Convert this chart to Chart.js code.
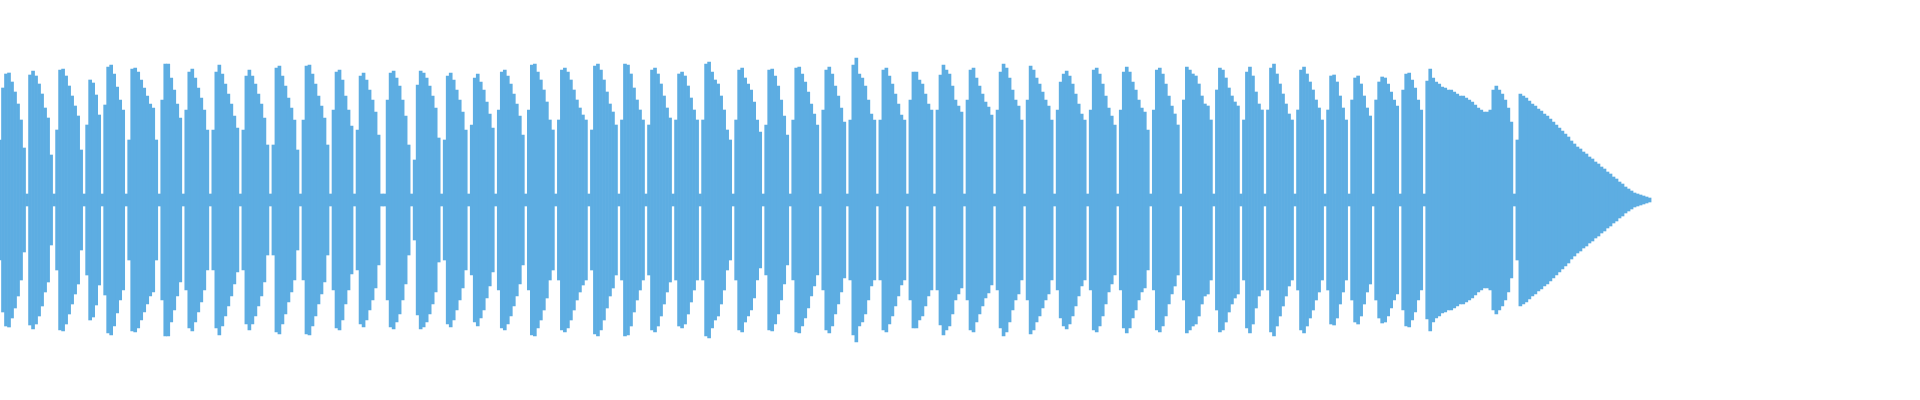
<!DOCTYPE html>
<html><head><meta charset="utf-8">
<script src="https://cdn.jsdelivr.net/npm/chart.js@4"></script>
<style>html,body{margin:0;padding:0;background:#fff}#w{width:1920px;height:400px}</style>
</head><body><div id="w"><canvas id="c"></canvas></div>
<script>
// Peak amplitude per 3px column for each burst (waveform envelope, symmetric)
const bursts = [
[60,112,126,127,118,108,96,80,52],
[125,129,124,116,106,92,82,45],
[70,130,131,124,114,104,94,84,50],
[75,120,117,105,85],
[95,133,135,126,113,100,90],
[60,131,132,128,120,112,104,96,92,60],
[100,136,136,122,110,96,82],
[90,128,131,122,112,102,90,70],
[70,128,135,126,116,106,96,84,72],
[70,124,130,124,116,106,96,82,55],
[55,132,134,124,114,102,92,80,50],
[80,134,135,126,116,104,94,82,55],
[90,128,130,120,104,90,74],
[70,124,127,120,110,100,88,65],
[100,127,129,122,114,100,84,55],
[40,115,129,127,122,114,104,92,62],
[60,124,127,120,110,100,88,70],
[75,122,126,118,110,98,86,72],
[90,128,130,124,116,106,96,84,65],
[90,135,136,128,120,110,98,80,70],
[80,130,132,128,120,110,100,92,85,80],
[70,134,136,130,120,108,96,88,75],
[80,136,135,126,112,100,90,80],
[75,130,132,126,116,104,92,82],
[80,126,128,124,114,102,90,80],
[80,136,138,128,120,116,104,90,70,60],
[80,130,132,122,116,110,98,80,68],
[75,130,131,124,114,100,84,65],
[80,132,133,126,118,108,96,86,75],
[90,130,133,126,114,104,92,78],
[80,135,142,126,122,114,100,86,80],
[80,130,132,124,116,106,96,85,80],
[100,128,128,120,116,106,96,90],
[90,125,135,130,126,114,100,94,88],
[100,130,132,122,114,106,98,93,85],
[90,128,136,132,122,110,100,94,80],
[100,134,130,122,116,108,100,94,80],
[90,118,126,129,124,116,106,96,86,80],
[90,130,132,126,116,104,92,84,75],
[90,128,133,128,118,110,100,92,88,70],
[90,130,132,126,116,104,94,86,75],
[100,133,130,126,124,116,104,96,94,80],
[110,132,130,122,112,104,98,94],
[80,128,133,124,108,96,90],
[90,132,136,126,116,106,96,86,80],
[90,130,133,126,118,110,100,92,80],
[90,124,125,118,104,92,80],
[100,122,124,116,104,92,84],
[100,118,123,122,116,108,100,94],
[110,126,127,120,112,100,90],
[119,131,122,118,116,113,112,110,110,108,106,104,104,102,100,98,95,92,90,88,88,90,110,114,110,106,100,92,78],
[60,106,104,102,99,96,94,91,89,86,84,81,78,75,72,69,66,63,59,56,53,51,48,46,43,41,38,36,33,31,28,26,23,21,18,16,13,11,9,7,6,5,4,3,2]
];
const gapCols = [1,1,1,1,1,1,1,1,1,1,1,1,1,2,1,1,1,1,1,1,1,1,1,1,1,1,1,1,1,1,1,1,1,1,1,1,1,1,1,1,1,1,1,1,1,1,1,1,1,1,1,0];
const gapAmp = 6;
const totalCols = 640;

const amps = [];
bursts.forEach((b,i)=>{ b.forEach(v=>amps.push(v)); for(let k=0;k<gapCols[i];k++) amps.push(gapAmp); });
while (amps.length < totalCols) amps.push(null);
const labels = amps.map((_,i)=>i);
const data = amps.map(a => a===null ? null : [-a, a]);

new Chart(document.getElementById('c'), {
  type:'bar',
  data:{labels, datasets:[{data, backgroundColor:'#5DADE2', borderWidth:0, barPercentage:1, categoryPercentage:1, borderSkipped:false}]},
  options:{
    animation:false, responsive:true, maintainAspectRatio:false,
    layout:{padding:0},
    plugins:{legend:{display:false}, tooltip:{enabled:false}},
    scales:{
      x:{display:false, offset:false, grid:{display:false}},
      y:{display:false, min:-200, max:200}
    }
  }
});
</script></body></html>
